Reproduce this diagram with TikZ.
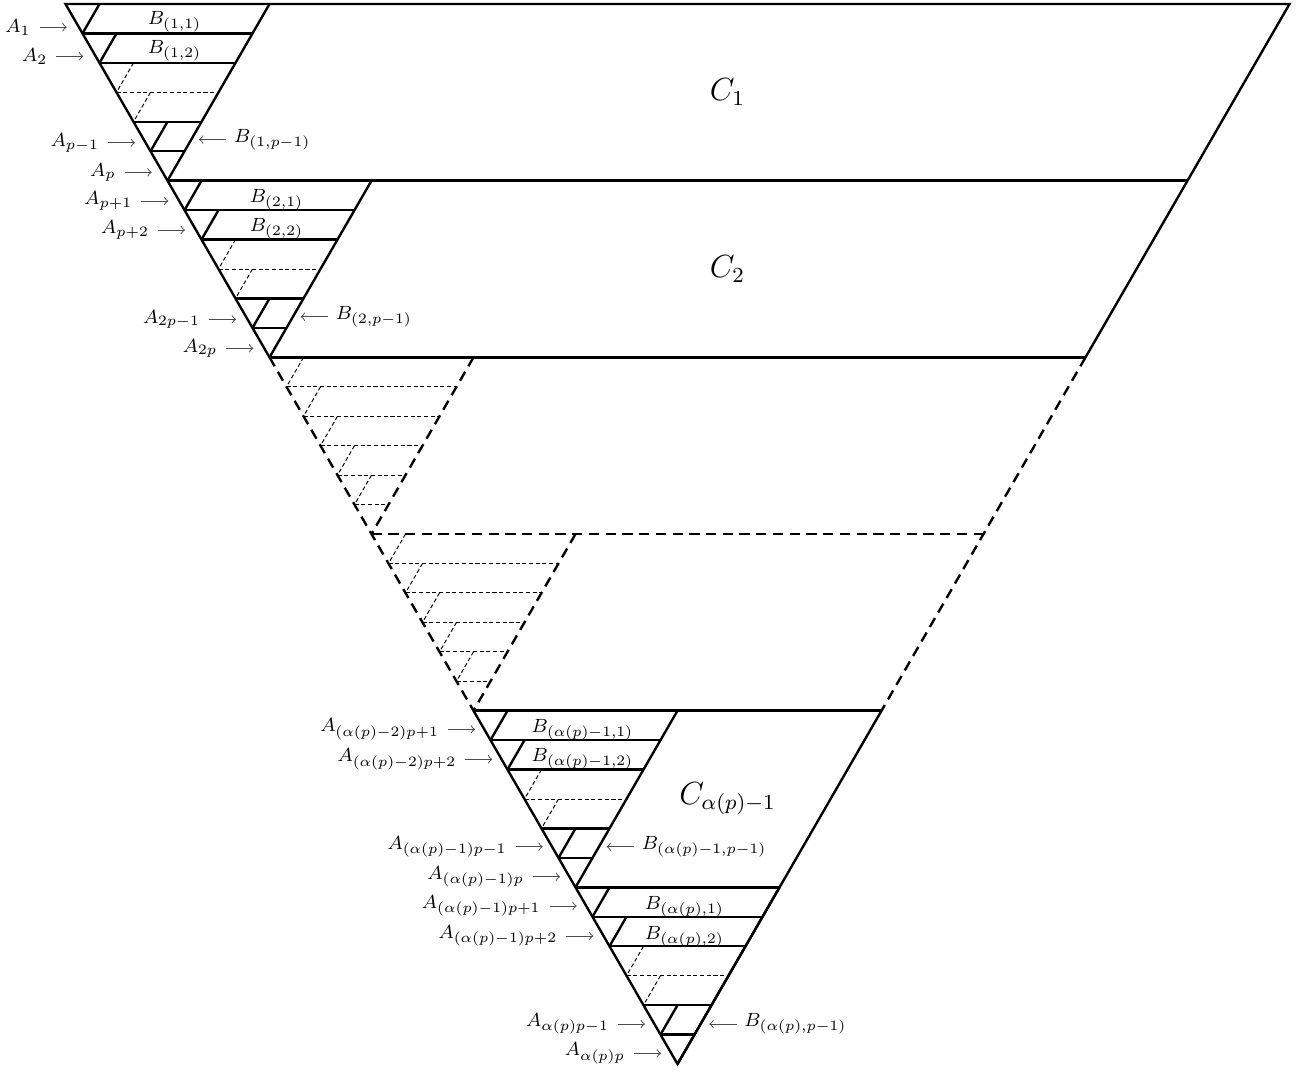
\documentclass[tikz,border=0pt]{standalone}
\usepackage{amsmath}
\usepackage{graphicx}
\newcommand{\biglab}[1]{{\large\scalebox{1.117}{#1}}}
\begin{document}
\begin{tikzpicture}[x=0.0147059cm,y=-0.0147059cm,
  edge/.style={line width=1.0pt},
  dedge/.style={line width=1.0pt,dash pattern=on 4.3pt off 2.7pt},
  fine/.style={line width=0.4pt,dash pattern=on 1.7pt off 1.1pt},
  larr/.style={->,line width=0.4pt,draw=black!70},
  alab/.style={anchor=east,inner xsep=3.7pt,inner ysep=0pt,outer sep=0pt,font=\footnotesize},
  rlab/.style={anchor=west,inner xsep=3.3pt,inner ysep=0pt,outer sep=0pt,font=\footnotesize},
  blab/.style={anchor=base,inner sep=0pt,font=\footnotesize},
  clab/.style={anchor=center,inner sep=0pt}]
\useasboundingbox (0,0) rectangle (1297,1071);
% lattice points: row i, column j
\foreach \i in {0,...,36}{
  \pgfmathtruncatemacro\jmax{36-\i}
  \foreach \j in {0,...,\jmax}{
    \coordinate (p-\i-\j) at ({65.5+17*\i+34*\j},{4+29.4449*\i});
  }
}
% outer outline
\draw[edge] (p-12-0) -- (p-0-0) -- (p-0-36) -- (p-12-24);
\draw[dedge] (p-12-0) -- (p-24-0);
\draw[dedge] (p-12-24) -- (p-24-12);
\draw[edge] (p-24-12) -- (p-36-0) -- (p-24-0);
% strip boundaries
\draw[edge] (p-6-0) -- (p-6-30);
\draw[edge] (p-12-0) -- (p-12-24);
\draw[dedge] (p-18-0) -- (p-18-18);
\draw[edge] (p-24-0) -- (p-24-12);
\draw[edge] (p-30-0) -- (p-30-6);
% solid strips
\foreach \k in {0,1,4,5}{
  \pgfmathtruncatemacro\rowa{6*\k}
  \pgfmathtruncatemacro\rowb{6*\k+1}
  \pgfmathtruncatemacro\rowc{6*\k+2}
  \pgfmathtruncatemacro\rowd{6*\k+3}
  \pgfmathtruncatemacro\rowe{6*\k+4}
  \pgfmathtruncatemacro\rowf{6*\k+5}
  \pgfmathtruncatemacro\rowg{6*\k+6}
  \draw[edge] (p-\rowa-6) -- (p-\rowg-0);
  \draw[edge] (p-\rowb-0) -- (p-\rowb-5);
  \draw[edge] (p-\rowc-0) -- (p-\rowc-4);
  \draw[fine] (p-\rowd-0) -- (p-\rowd-3);
  \draw[edge] (p-\rowe-0) -- (p-\rowe-2);
  \draw[edge] (p-\rowf-0) -- (p-\rowf-1);
  \draw[edge] (p-\rowa-1) -- (p-\rowb-0);
  \draw[edge] (p-\rowb-1) -- (p-\rowc-0);
  \draw[fine] (p-\rowc-1) -- (p-\rowd-0);
  \draw[fine] (p-\rowd-1) -- (p-\rowe-0);
  \draw[edge] (p-\rowe-1) -- (p-\rowf-0);
}
% dashed strips
\foreach \k in {2,3}{
  \pgfmathtruncatemacro\rowa{6*\k}
  \pgfmathtruncatemacro\rowg{6*\k+6}
  \draw[dedge] (p-\rowa-6) -- (p-\rowg-0);
  \foreach \m in {0,...,4}{
    \pgfmathtruncatemacro\rtop{6*\k+\m}
    \pgfmathtruncatemacro\rbot{6*\k+\m+1}
    \pgfmathtruncatemacro\jend{5-\m}
    \draw[fine] (p-\rbot-0) -- (p-\rbot-\jend);
    \draw[fine] (p-\rtop-1) -- (p-\rbot-0);
  }
}
% arrow targets
\coordinate (ta1) at (66.7,27.2);
\coordinate (ta2) at (83.3,56.3);
\coordinate (ta3) at (135,142.7);
\coordinate (ta4) at (151.7,172.3);
\coordinate (ta5) at (168.3,201);
\coordinate (ta6) at (185,230);
\coordinate (ta7) at (236,319.3);
\coordinate (ta8) at (253.3,348.3);
\coordinate (ta9) at (475,729.3);
\coordinate (ta10) at (492.3,759.3);
\coordinate (ta11) at (542.7,846.7);
\coordinate (ta12) at (560,876.7);
\coordinate (ta13) at (576.7,906);
\coordinate (ta14) at (593.3,936);
\coordinate (ta15) at (645,1024);
\coordinate (ta16) at (661,1053.3);
\coordinate (tb13) at (199,139.5);
\coordinate (tb23) at (300.7,316.7);
\coordinate (tb43) at (606.7,846.7);
\coordinate (tb53) at (709.3,1024);
% strip 1 labels
\node[alab] (a1) at (39.5,27.2) {$A_1$};
\node[alab] (a2) at (56.1,56.3) {$A_2$};
\node[alab] (a3) at (107.8,142.7) {$A_{p-1}$};
\node[alab] (a4) at (124.5,172.3) {$A_p$};
\node[blab] (b11) at (174.5,24.3) {$B_{(1,1)}$};
\node[blab] (b12) at (174.5,53.7) {$B_{(1,2)}$};
\node[rlab] (b13) at (226.2,139.5) {$B_{(1,p-1)}$};
\node[clab] (c1) at (727.5,92.3) {\biglab{$C_1$}};
% strip 2 labels
\node[alab] (a5) at (141.1,201) {$A_{p+1}$};
\node[alab] (a6) at (157.8,230) {$A_{p+2}$};
\node[alab] (a7) at (208.8,319.3) {$A_{2p-1}$};
\node[alab] (a8) at (226.1,348.3) {$A_{2p}$};
\node[blab] (b21) at (276.5,202.2) {$B_{(2,1)}$};
\node[blab] (b22) at (276.5,231.6) {$B_{(2,2)}$};
\node[rlab] (b23) at (327.9,316.7) {$B_{(2,p-1)}$};
\node[clab] (c2) at (727.5,269) {\biglab{$C_2$}};
% strip 5 labels
\node[alab] (a9) at (447.8,729.3) {$A_{(\alpha(p)-2)p+1}$};
\node[alab] (a10) at (465.1,759.3) {$A_{(\alpha(p)-2)p+2}$};
\node[alab] (a11) at (515.5,846.7) {$A_{(\alpha(p)-1)p-1}$};
\node[alab] (a12) at (532.8,876.7) {$A_{(\alpha(p)-1)p}$};
\node[blab] (b41) at (582.5,732.2) {$B_{(\alpha(p)-1,1)}$};
\node[blab] (b42) at (582.5,761.6) {$B_{(\alpha(p)-1,2)}$};
\node[rlab] (b43) at (633.9,846.7) {$B_{(\alpha(p)-1,p-1)}$};
\node[clab] (c4) at (727.5,799) {\biglab{$C_{\alpha(p)-1}$}};
% strip 6 labels
\node[alab] (a13) at (549.5,906) {$A_{(\alpha(p)-1)p+1}$};
\node[alab] (a14) at (566.1,936) {$A_{(\alpha(p)-1)p+2}$};
\node[alab] (a15) at (617.8,1024) {$A_{\alpha(p)p-1}$};
\node[alab] (a16) at (633.8,1053.3) {$A_{\alpha(p)p}$};
\node[blab] (b51) at (684.5,909.8) {$B_{(\alpha(p),1)}$};
\node[blab] (b52) at (684.5,939.2) {$B_{(\alpha(p),2)}$};
\node[rlab] (b53) at (736.5,1024) {$B_{(\alpha(p),p-1)}$};
% arrows
\foreach \n in {1,...,16}{\draw[larr] (a\n) -- (ta\n);}
\foreach \n in {13,23,43,53}{\draw[larr] (b\n) -- (tb\n);}
\end{tikzpicture}
\end{document}
